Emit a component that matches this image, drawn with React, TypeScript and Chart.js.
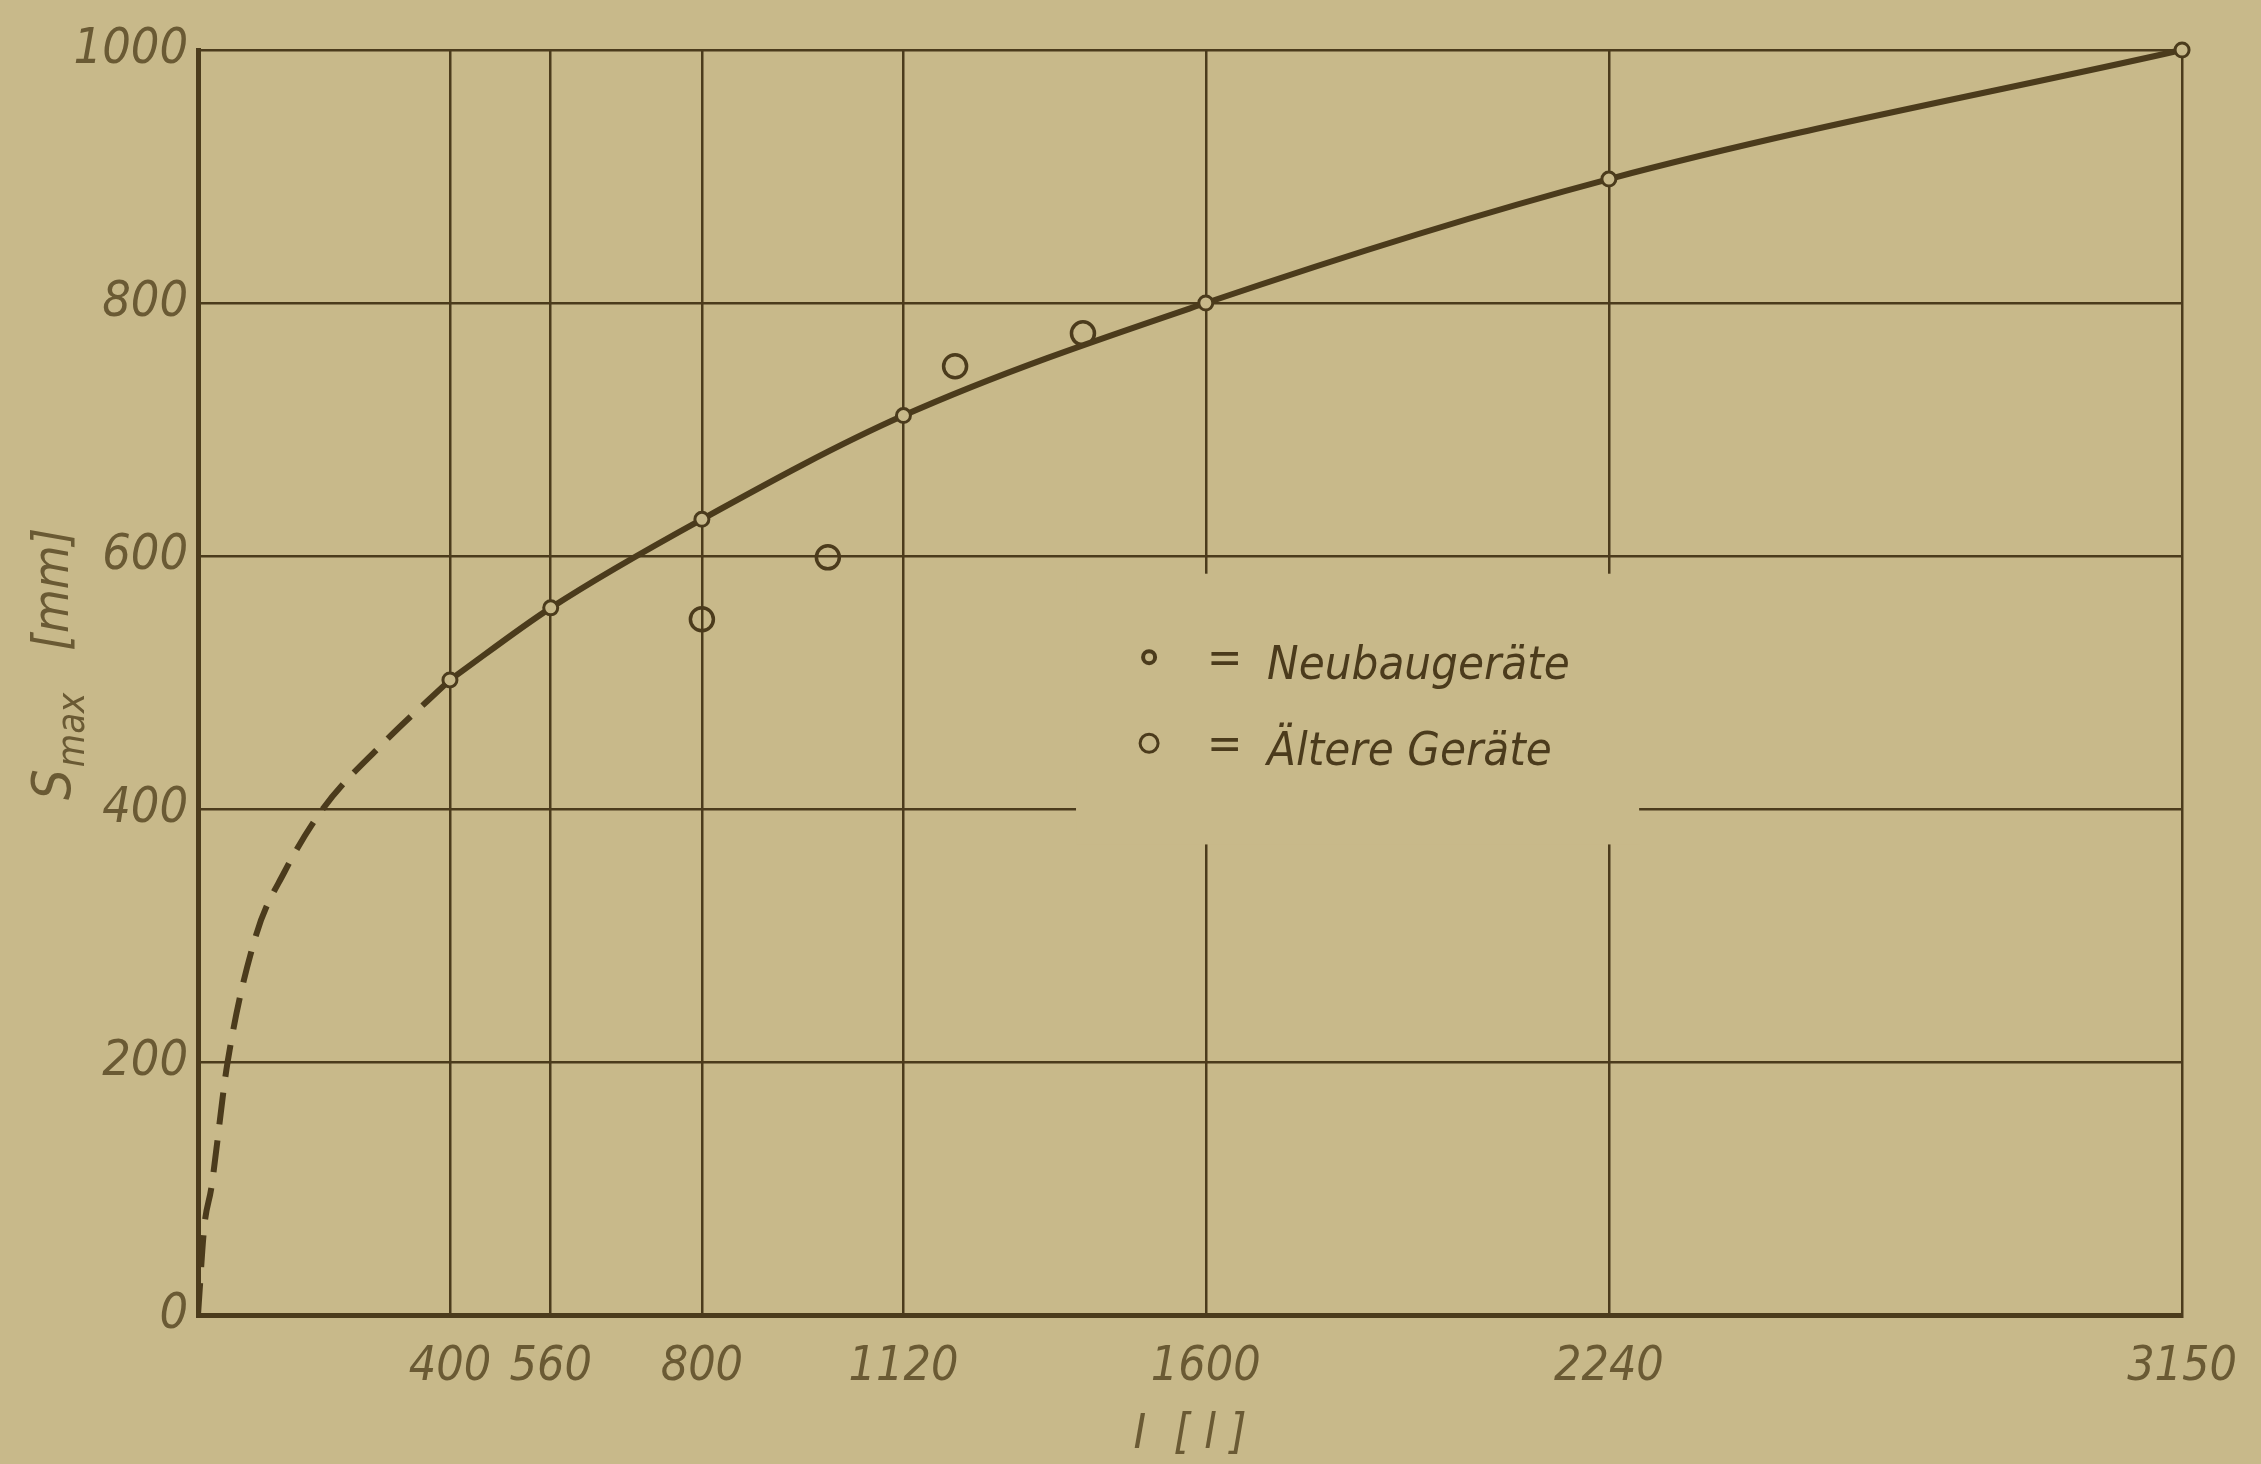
import React, { useEffect, useRef } from "react";
import { Chart, registerables } from "chart.js";

Chart.register(...registerables);

// ---- data ----
const xTickValues = [0, 400, 560, 800, 1120, 1600, 2240, 3150];
const yTickValues = [0, 200, 400, 600, 800, 1000];
const neubauI = [400, 560, 800, 1120, 1600, 2240, 3150];
const neubauS = [502, 559, 629, 711, 800, 898, 1000];
const aeltereI = [800, 1000, 1202, 1405];
const aeltereS = [550, 599, 750, 776];
const dashedI = [0, 10, 21, 47, 92, 137, 198, 290, 400];
const dashedS = [0, 70, 100, 200, 300, 350, 400, 450, 502];
const legendLabels = ["Neubaugeräte", "Ältere Geräte"];
const xTitle = "I  [ l ]";
const yTitleMain = "S";
const yTitleSub = "max";
const yTitleUnit = "[mm]";

// ---- styles ----
const BG = "#c8b98a";
const INK = "#4b3b1c";
const TEXT = "#6a5a34";
const FONT = "'DejaVu Sans Condensed', 'Liberation Sans Narrow', 'DejaVu Sans', sans-serif";

const toPts = (xs: number[], ys: number[]) => xs.map((x, i) => ({ x, y: ys[i] }));

const decorPlugin = {
  id: "decor",
  beforeDatasetsDraw(chart: any) {
    const { ctx, scales } = chart;
    const x = scales.x;
    const y = scales.y;
    // blank area in the grid behind the legend
    const x0 = x.getPixelForValue(1394);
    const x1 = x.getPixelForValue(2288);
    const y0 = y.getPixelForValue(586);
    const y1 = y.getPixelForValue(372);
    ctx.save();
    ctx.fillStyle = BG;
    ctx.fillRect(x0, y0, x1 - x0, y1 - y0);
    ctx.restore();
  },
  afterDraw(chart: any) {
    const { ctx, scales, chartArea } = chart;
    const x = scales.x;
    const y = scales.y;
    ctx.save();
    // legend
    const cx = x.getPixelForValue(1510);
    const rows = [y.getPixelForValue(520), y.getPixelForValue(452)];
    const radii = [6, 9];
    const widths = [4, 3];
    rows.forEach((ry, i) => {
      ctx.beginPath();
      ctx.arc(cx, ry, radii[i], 0, Math.PI * 2);
      ctx.lineWidth = widths[i];
      ctx.strokeStyle = INK;
      ctx.stroke();
      ctx.fillStyle = INK;
      ctx.font = `italic 47px ${FONT}`;
      ctx.textBaseline = "middle";
      ctx.textAlign = "left";
      ctx.fillText("=", cx + 58, ry + 4);
      ctx.fillText(legendLabels[i], cx + 118, ry + 10);
    });
    // x title
    ctx.fillStyle = TEXT;
    ctx.font = `italic 48px ${FONT}`;
    ctx.textAlign = "center";
    ctx.textBaseline = "middle";
    ctx.fillText(xTitle, (chartArea.left + chartArea.right) / 2, 1436);
    // y title (rotated, with subscript)
    ctx.translate(52, 800);
    ctx.rotate(-Math.PI / 2);
    ctx.textAlign = "left";
    ctx.textBaseline = "alphabetic";
    ctx.font = `italic 54px ${FONT}`;
    ctx.fillText(yTitleMain, 0, 18);
    const w = ctx.measureText(yTitleMain).width;
    ctx.font = `italic 38px ${FONT}`;
    ctx.fillText(yTitleSub, w + 2, 32);
    const w2 = ctx.measureText(yTitleSub).width;
    ctx.font = `italic 50px ${FONT}`;
    ctx.fillText(yTitleUnit, w + w2 + 44, 16);
    ctx.restore();
  },
};

export default function App() {
  const ref = useRef<HTMLCanvasElement | null>(null);

  useEffect(() => {
    document.body.style.margin = "0";
    document.body.style.background = BG;
    if (!ref.current) return;
    const chart = new Chart(ref.current, {
      type: "line",
      data: {
        datasets: [
          {
            label: "Extrapolation",
            data: toPts(dashedI, dashedS),
            borderColor: INK,
            borderWidth: 6,
            borderDash: [32, 16],
            cubicInterpolationMode: "monotone",
            pointRadius: 0,
            fill: false,
          },
          {
            label: legendLabels[0],
            data: toPts(neubauI, neubauS),
            borderColor: INK,
            borderWidth: 6,
            cubicInterpolationMode: "monotone",
            pointRadius: 7,
            pointBorderWidth: 3,
            pointBorderColor: INK,
            pointBackgroundColor: BG,
            fill: false,
            clip: false,
          },
          {
            label: legendLabels[1],
            data: toPts(aeltereI, aeltereS),
            showLine: false,
            pointRadius: 11.5,
            pointBorderWidth: 3.5,
            pointBorderColor: INK,
            pointBackgroundColor: "rgba(0,0,0,0)",
          },
        ],
      },
      options: {
        responsive: false,
        animation: false,
        devicePixelRatio: 1,
        layout: { padding: { top: 50, right: 71, bottom: 0, left: 0 } },
        plugins: { legend: { display: false }, tooltip: { enabled: false } },
        scales: {
          x: {
            type: "linear",
            min: 0,
            max: 3150,
            afterBuildTicks: (s: any) => {
              s.ticks = xTickValues.map((v) => ({ value: v }));
            },
            afterFit: (s: any) => {
              s.height = 149;
            },
            grid: { color: INK, lineWidth: 2.5, drawTicks: false },
            border: { color: INK, width: 5 },
            ticks: {
              autoSkip: false,
              maxRotation: 0,
              padding: 24,
              color: TEXT,
              font: { family: FONT, size: 48, style: "italic" },
              callback: (v: any) => (v === 0 ? "" : String(v)),
            },
          },
          y: {
            type: "linear",
            min: 0,
            max: 1000,
            afterBuildTicks: (s: any) => {
              s.ticks = yTickValues.map((v) => ({ value: v }));
            },
            afterFit: (s: any) => {
              s.width = 198;
            },
            grid: { color: INK, lineWidth: 2.5, drawTicks: false },
            border: { color: INK, width: 5 },
            ticks: {
              padding: 10,
              color: TEXT,
              font: { family: FONT, size: 50, style: "italic" },
              callback: (v: any) => String(v),
            },
          },
        },
      },
      plugins: [decorPlugin],
    });
    return () => chart.destroy();
  }, []);

  return (
    <div style={{ width: 2261, height: 1464, background: BG, overflow: "hidden" }}>
      <canvas ref={ref} width={2261} height={1464} style={{ display: "block" }} />
    </div>
  );
}
